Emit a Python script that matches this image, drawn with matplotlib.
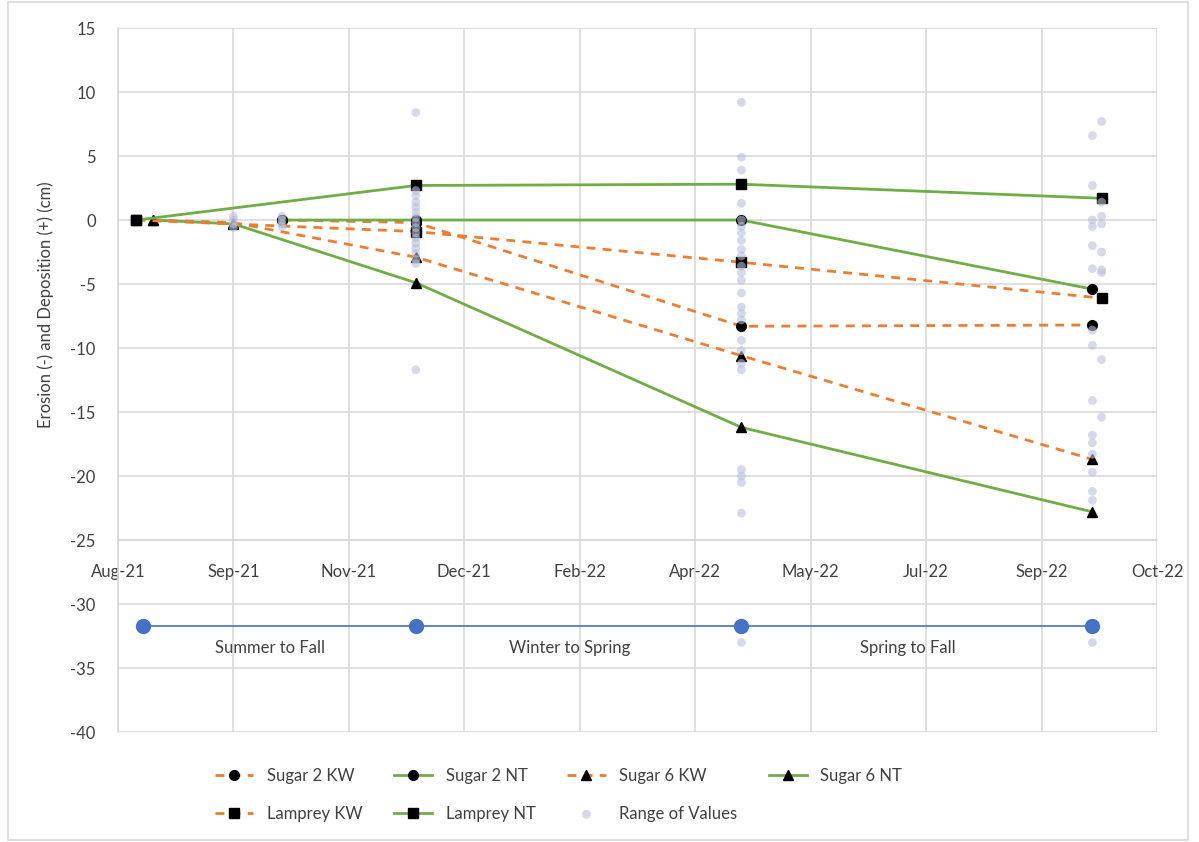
import numpy as np
import matplotlib.pyplot as plt
import matplotlib.dates as mdates
from matplotlib.patches import Rectangle
from datetime import datetime, timedelta

plt.rcParams['font.family'] = ['Lato', 'DejaVu Sans']
plt.rcParams['axes.unicode_minus'] = False

# survey dates and mean erosion/deposition per site (cm)
sugar2_dates = ['2021-10-11', '2021-12-08', '2022-04-28', '2022-09-27']
sugar2_kw = [0.0, -0.2, -8.3, -8.2]
sugar2_nt = [0.0, 0.0, 0.0, -5.4]

sugar6_dates = ['2021-08-16', '2021-09-20', '2021-12-08', '2022-04-28', '2022-09-27']
sugar6_kw = [0.0, -0.2, -2.9, -10.6, -18.7]
sugar6_nt = [0.0, -0.3, -4.9, -16.2, -22.8]

lamprey_dates = ['2021-08-09', '2021-12-08', '2022-04-28', '2022-10-01']
lamprey_kw = [0.0, -0.9, -3.3, -6.1]
lamprey_nt = [0.0, 2.7, 2.8, 1.7]

# individual pin readings, grouped by survey date
range_groups = {
    '2021-09-20': [0.3, 0.0, -0.3, -0.6],
    '2021-10-11': [0.3, 0.0, -0.3, -0.5],
    '2021-12-08': [8.4, 2.3, 1.9, 1.4, 1.0, 0.6, 0.2, -0.2, -0.6, -1.0, -1.4,
                   -1.8, -2.2, -2.6, -3.1, -3.4, -11.7],
    '2022-04-28': [9.2, 4.9, 3.9, 1.3, 0.0, -0.5, -1.0, -1.6, -2.3, -2.8, -3.6,
                   -4.1, -4.7, -5.7, -6.8, -7.3, -7.8, -9.4, -10.2, -11.2, -11.7,
                   -19.5, -20.0, -20.5, -22.9, -33.0],
    '2022-09-27': [6.6, 2.7, 0.0, -0.5, -2.0, -3.8, -8.6, -9.8, -14.1, -16.8,
                   -17.4, -18.3, -19.7, -21.2, -21.9, -33.0],
    '2022-10-01': [7.7, 1.4, 0.3, -0.3, -2.5, -3.9, -4.1, -10.9, -15.4],
}

# season timeline along the bottom
phase_dates = ['2021-08-12', '2021-12-08', '2022-04-28', '2022-09-27']
phase_level = -31.7
phase_labels = ['Summer to Fall', 'Winter to Spring', 'Spring to Fall']


def to_dt(lst):
    return [datetime.strptime(d, '%Y-%m-%d') for d in lst]


orange = '#ED7D31'
green = '#70AD47'
text_col = '#404040'
grid_col = '#D9D9D9'

fig = plt.figure(figsize=(11.99, 8.42), dpi=100)
ax = fig.add_axes([0.0984, 0.1306, 0.8666, 0.8361])

handles = {}
series = [
    ('Sugar 2 KW', sugar2_dates, sugar2_kw, orange, '--', 'o'),
    ('Sugar 2 NT', sugar2_dates, sugar2_nt, green, '-', 'o'),
    ('Sugar 6 KW', sugar6_dates, sugar6_kw, orange, '--', '^'),
    ('Sugar 6 NT', sugar6_dates, sugar6_nt, green, '-', '^'),
    ('Lamprey KW', lamprey_dates, lamprey_kw, orange, '--', 's'),
    ('Lamprey NT', lamprey_dates, lamprey_nt, green, '-', 's'),
]
for name, dates, vals, col, ls, mk in series:
    ms = 7.5 if mk == 's' else 7.5 if mk == '^' else 7
    dash = dict(dashes=(3.2, 2.6)) if ls == '--' else {}
    line, = ax.plot(to_dt(dates), vals, color=col, linestyle=ls, lw=2,
                    marker=mk, markersize=ms, markerfacecolor='black',
                    markeredgecolor='black', zorder=3, label=name, **dash)
    handles[name] = line

rx, ry = [], []
for d, vals in range_groups.items():
    rx += [datetime.strptime(d, '%Y-%m-%d')] * len(vals)
    ry += vals
rng = ax.scatter(rx, ry, s=40, color='#B9C1DC', alpha=0.6, edgecolors='none',
                 zorder=4, label='Range of Values')
handles['Range of Values'] = rng

# season timeline
pd_dt = to_dt(phase_dates)
ax.plot(pd_dt, [phase_level] * len(pd_dt), color='#4472C4', lw=1.2,
        marker='o', markersize=10, markerfacecolor='#4472C4',
        markeredgecolor='#4472C4', zorder=3)
for i, lab in enumerate(phase_labels):
    mid = pd_dt[i] + (pd_dt[i + 1] - pd_dt[i]) / 2 - timedelta(days=4)
    ax.text(mid, phase_level - 1.75, lab, ha='center', va='center',
            fontsize=12, color=text_col)

# axes
x0 = datetime(2021, 8, 1)
ax.set_xlim(x0, x0 + timedelta(days=450))
ax.set_xticks([x0 + timedelta(days=50 * i) for i in range(10)])
ax.xaxis.set_major_formatter(mdates.DateFormatter('%b-%y'))
ax.set_ylim(-40, 15)
ax.set_yticks(np.arange(-40, 16, 5))

ax.grid(True, color=grid_col, lw=1.2, zorder=0)
ax.set_axisbelow(True)
for s in ['top', 'right']:
    ax.spines[s].set_visible(False)
ax.spines['left'].set_color(grid_col)
ax.spines['left'].set_linewidth(1.2)
ax.spines['bottom'].set_position(('data', -25))
ax.spines['bottom'].set_color(grid_col)
ax.spines['bottom'].set_linewidth(1.2)
ax.tick_params(axis='both', length=0, labelsize=12, labelcolor=text_col)
ax.tick_params(axis='x', pad=17)
ax.tick_params(axis='y', pad=16)

fig.text(0.038, 0.638, 'Erosion (-) and Deposition (+) (cm)', rotation=90,
         ha='center', va='center', fontsize=12, color=text_col)

order = ['Sugar 2 KW', 'Lamprey KW', 'Sugar 2 NT', 'Lamprey NT',
         'Sugar 6 KW', 'Range of Values', 'Sugar 6 NT']
fig.legend([handles[n] for n in order], order, ncol=4, loc='center',
           bbox_to_anchor=(0.466, 0.056), frameon=False, fontsize=12,
           labelcolor=text_col, handlelength=2.3, columnspacing=1.9,
           handletextpad=0.8, labelspacing=1.3)

fig.patches.append(Rectangle((0.007, 0.002), 0.984, 0.996, transform=fig.transFigure,
                             fill=False, edgecolor=grid_col, lw=1.2))

fig.savefig('out.png', dpi=100)
